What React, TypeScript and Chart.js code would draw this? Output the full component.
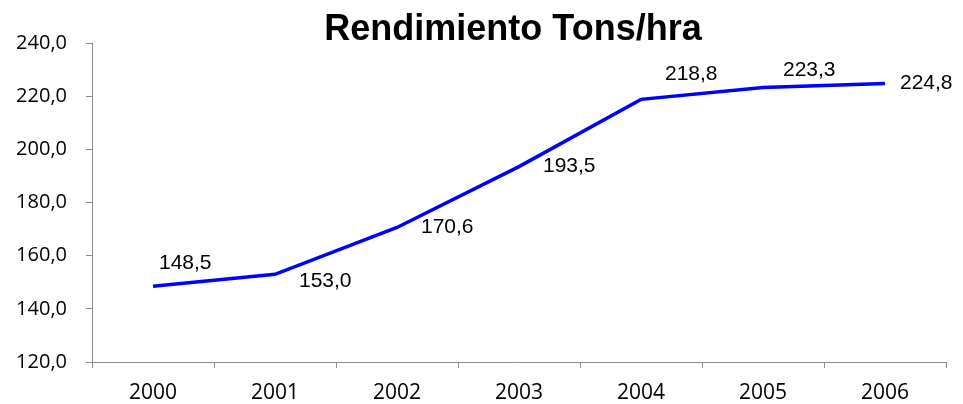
import { useEffect, useRef } from "react";
import { Chart, registerables } from "chart.js";

Chart.register(...registerables);

const TITLE = "Rendimiento Tons/hra";
const YEARS = ["2000", "2001", "2002", "2003", "2004", "2005", "2006"];
const RENDIMIENTO = [148.5, 153.0, 170.6, 193.5, 218.8, 223.3, 224.8];
const Y_MIN = 120;
const Y_MAX = 240;
const Y_STEP = 20;

const fmt = (v: number) => v.toFixed(1).replace(".", ",");

// label placement relative to each point: [dx to left edge, dy to vertical center]
const LABEL_OFFSETS: [number, number][] = [
  [6, -23],
  [24, 7],
  [24, 0],
  [24, 0],
  [24, -25],
  [20, -17],
  [15, 0],
];

const labelPlugin = {
  id: "customLabels",
  afterDatasetsDraw(chart: any) {
    const ctx = chart.ctx;
    const meta = chart.getDatasetMeta(0);
    ctx.save();
    ctx.fillStyle = "#000";
    ctx.font = "21px 'Liberation Sans', Arial, sans-serif";
    ctx.textAlign = "left";
    ctx.textBaseline = "middle";
    meta.data.forEach((pt: any, i: number) => {
      const [dx, dy] = LABEL_OFFSETS[i];
      ctx.fillText(fmt(RENDIMIENTO[i]), pt.x + dx, pt.y + dy);
    });
    // title
    const ca = chart.chartArea;
    ctx.font = "bold 36px 'Liberation Sans', Arial, sans-serif";
    ctx.textAlign = "center";
    ctx.textBaseline = "alphabetic";
    ctx.fillText(TITLE, (ca.left + ca.right) / 2 - 6, 40);
    ctx.restore();
  },
};

export default function App() {
  const ref = useRef<HTMLCanvasElement | null>(null);
  useEffect(() => {
    document.body.style.margin = "0";
    const canvas = ref.current!;
    const chart = new Chart(canvas, {
      type: "line",
      data: {
        labels: YEARS,
        datasets: [
          {
            data: RENDIMIENTO,
            borderColor: "#0000FF",
            borderWidth: 3.5,
            pointRadius: 0,
            tension: 0,
            fill: false,
          },
        ],
      },
      options: {
        animation: false,
        responsive: false,
        layout: { padding: { top: 43, right: 17, left: 0, bottom: 0 } },
        plugins: {
          legend: { display: false },
          title: { display: false },
          tooltip: { enabled: false },
        },
        scales: {
          x: {
            offset: true,
            grid: {
              offset: true,
              display: true,
              drawOnChartArea: false,
              drawTicks: true,
              tickLength: 6,
              color: "#8c8c8c",
            },
            border: { display: true, color: "#8c8c8c", width: 1 },
            ticks: {
              color: "#000",
              font: { family: "'Open Sans'", size: 21 },
              padding: 12,
              maxRotation: 0,
            },
            afterFit: (s: any) => {
              s.height = 42;
            },
          },
          y: {
            min: Y_MIN,
            max: Y_MAX,
            grid: {
              display: true,
              drawOnChartArea: false,
              drawTicks: true,
              tickLength: 6,
              color: "#8c8c8c",
            },
            border: { display: true, color: "#8c8c8c", width: 1 },
            ticks: {
              stepSize: Y_STEP,
              color: "#000",
              font: { family: "'Open Sans'", size: 20 },
              padding: 19,
              callback: (v: any) => fmt(Number(v)),
            },
            afterFit: (s: any) => {
              s.width = 92;
            },
          },
        },
      },
      plugins: [labelPlugin],
    });
    return () => chart.destroy();
  }, []);
  return <canvas ref={ref} width={963} height={404} style={{ display: "block" }} />;
}
